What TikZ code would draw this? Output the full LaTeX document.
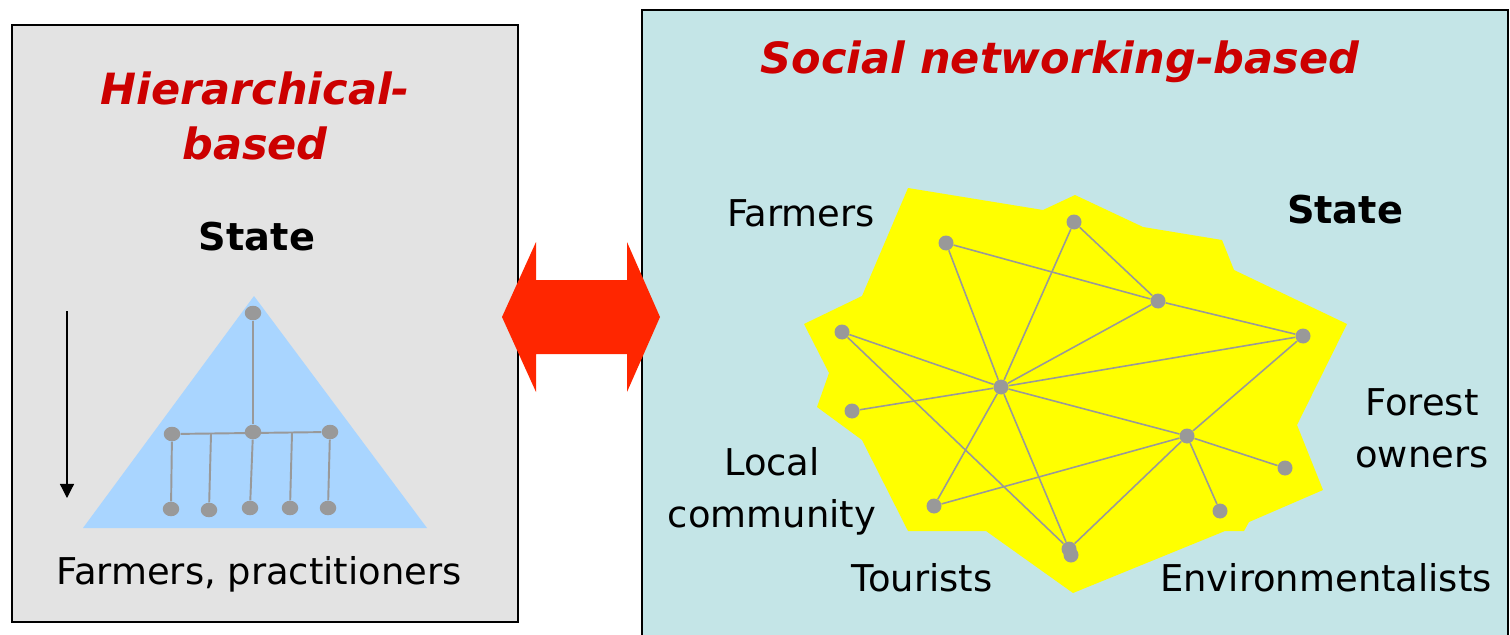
\documentclass[tikz,border=0pt]{standalone}
\usepackage{fontspec}
\setmainfont{DejaVu Sans}
\usepackage{xcolor}
\usetikzlibrary{shapes.geometric,arrows.meta}

\definecolor{panelgrey}{HTML}{E3E3E3}
\definecolor{panelcyan}{HTML}{C4E5E7}
\definecolor{pyramid}{HTML}{A9D5FF}
\definecolor{dotgrey}{HTML}{999999}
\definecolor{titlered}{HTML}{CC0000}
\definecolor{arrowred}{HTML}{FF2600}
\definecolor{netyellow}{HTML}{FFFF00}

\begin{document}
\begin{tikzpicture}[x=0.02cm,y=-0.02cm,
  dot/.style={ellipse,fill=dotgrey,minimum width=0.33cm,minimum height=0.29cm,inner sep=0pt},
  link/.style={draw=dotgrey,line width=0.9pt},
  heading/.style={text=titlered,font=\bfseries\itshape\fontsize{24.5}{31.3}\selectfont,align=center},
  actor/.style={font=\fontsize{21}{29.6}\selectfont,align=center},
  boss/.style={font=\bfseries\fontsize{21.8}{25}\selectfont}]
\useasboundingbox (0,0) rectangle (1510,635);

% panels
\draw[fill=panelgrey,line width=0.8pt] (12,25) rectangle (518,622);
\draw[fill=panelcyan,line width=0.8pt] (642,10) rectangle (1508,660);

% hierarchy
\node[heading] (hiertitle) at (255,116) {Hierarchical-\\based};
\node[boss] (topstate) at (257,237) {State};
\fill[pyramid] (254,296) -- (427,528) -- (83,528) -- cycle;
\node[dot] (h0) at (253,313) {};
\node[dot] (m1) at (172,434) {};
\node[dot] (m3) at (253,432) {};
\node[dot] (m5) at (330,432) {};
\coordinate (m2) at (211,434);
\coordinate (m4) at (292,433);
\node[dot] (b1) at (171,509) {};
\node[dot] (b2) at (209,510) {};
\node[dot] (b3) at (250,508) {};
\node[dot] (b4) at (290,508) {};
\node[dot] (b5) at (328,508) {};
\draw[dotgrey,line width=1.1pt] (h0) -- (m3);
\draw[dotgrey,line width=1.1pt] (m1) -- (m5);
\draw[dotgrey,line width=1.1pt] (m1) -- (b1);
\draw[dotgrey,line width=1.1pt] (m2) -- (b2);
\draw[dotgrey,line width=1.1pt] (m3) -- (b3);
\draw[dotgrey,line width=1.1pt] (m4) -- (b4);
\draw[dotgrey,line width=1.1pt] (m5) -- (b5);
\coordinate (downtop) at (67,311);
\coordinate (downend) at (67,498);
\draw[line width=0.7pt,-{Triangle[width=8pt,length=8pt]}] (downtop) -- (downend);
\node[actor] (practitioners) at (259,574) {Farmers, practitioners};

% double arrow
\fill[arrowred] (502,317) -- (536,242) -- (536,280) -- (627,280) -- (627,242) -- (660,317)
  -- (627,392) -- (627,354) -- (536,354) -- (536,392) -- cycle;

% network
\node[heading] (nettitle) at (1060,62) {Social networking-based};
\fill[netyellow] (908,188) -- (1043,210) -- (1075,195) -- (1143,227) -- (1222,240) -- (1234,270)
  -- (1347,324) -- (1297,425) -- (1323,490) -- (1249,522) -- (1244,531) -- (1225,531)
  -- (1073,593) -- (986,531) -- (908,531) -- (862,440) -- (817,407) -- (829,373)
  -- (804,324) -- (862,296) -- cycle;
\node[dot,minimum width=0.3cm,minimum height=0.3cm] (n1) at (946,243) {};
\node[dot,minimum width=0.3cm,minimum height=0.3cm] (n2) at (1074,222) {};
\node[dot,minimum width=0.3cm,minimum height=0.3cm] (n3) at (1158,301) {};
\node[dot,minimum width=0.3cm,minimum height=0.3cm] (n4) at (1303,336) {};
\node[dot,minimum width=0.3cm,minimum height=0.3cm] (n5) at (842,332) {};
\node[dot,minimum width=0.3cm,minimum height=0.3cm] (hub) at (1001,387) {};
\node[dot,minimum width=0.3cm,minimum height=0.3cm] (n7) at (852,411) {};
\node[dot,minimum width=0.3cm,minimum height=0.3cm] (n8) at (1187,436) {};
\node[dot,minimum width=0.3cm,minimum height=0.3cm] (n9) at (1285,468) {};
\node[dot,minimum width=0.3cm,minimum height=0.3cm] (n10) at (1220,511) {};
\node[dot,minimum width=0.3cm,minimum height=0.3cm] (n11) at (934,506) {};
\node[dot,minimum width=0.3cm,minimum height=0.3cm] (n12) at (1071,555) {};
\node[dot,minimum width=0.3cm,minimum height=0.3cm] (n12b) at (1069,549) {};
\draw[link] (n1) -- (n3);
\draw[link] (n1) -- (hub);
\draw[link] (n2) -- (n3);
\draw[link] (n2) -- (hub);
\draw[link] (n3) -- (n4);
\draw[link] (n3) -- (hub);
\draw[link] (n4) -- (hub);
\draw[link] (n4) -- (n8);
\draw[link] (n5) -- (hub);
\draw[link] (n5) -- (n12b);
\draw[link] (n7) -- (hub);
\draw[link] (hub) -- (n8);
\draw[link] (hub) -- (n11);
\draw[link] (hub) -- (n12b);
\draw[link] (n8) -- (n9);
\draw[link] (n8) -- (n10);
\draw[link] (n8) -- (n11);
\draw[link] (n8) -- (n12b);

\node[boss] (netstate) at (1345,210) {State};
\node[actor] (farmers) at (801,213) {Farmers};
\node[actor] (forest) at (1422,428) {Forest\\owners};
\node[actor] (local) at (772,491) {Local\\community};
\node[actor] (tourists) at (922,578) {Tourists};
\node[actor] (environ) at (1326,578) {Environmentalists};
\end{tikzpicture}
\end{document}
